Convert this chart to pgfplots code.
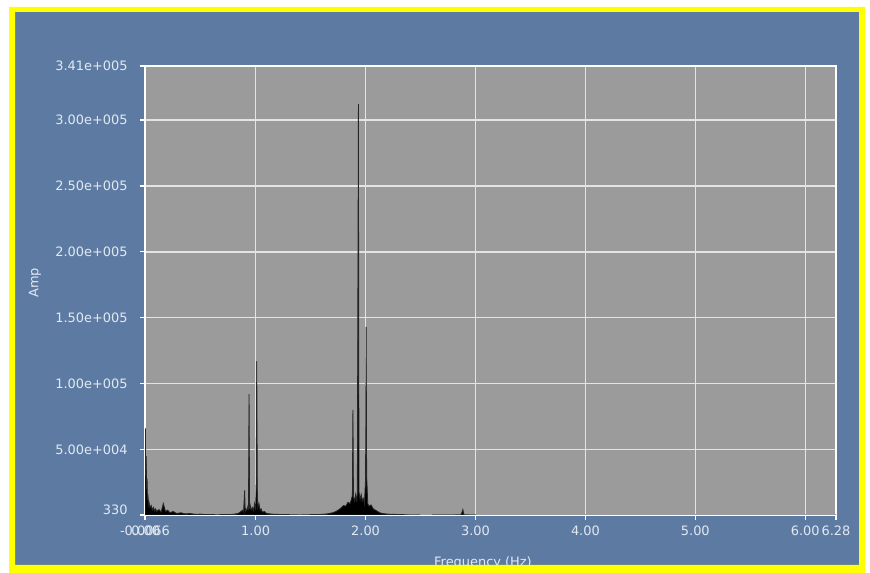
\documentclass[border=0pt]{standalone}
\usepackage{fontspec}
\setmainfont{DejaVu Sans}
\usepackage{pgfplots}
\pgfplotsset{compat=1.18}
\definecolor{bgblue}{HTML}{5D7BA2}
\definecolor{plotgray}{HTML}{9B9B9B}
\definecolor{txt}{HTML}{E2E8F0}
\definecolor{gridc}{HTML}{E4E4E4}
\definecolor{frameyellow}{HTML}{FFFF00}
\begin{document}
\begin{tikzpicture}[x=0.75pt,y=0.75pt]
\useasboundingbox (0,0) rectangle (870,573);
\fill[white] (0,0) rectangle (870,573);
\fill[bgblue] (9,0) rectangle (865,566);
\begin{axis}[
  at={(108.75pt,43.5pt)}, anchor=south west,
  scale only axis, width=518.25pt, height=336.75pt,
  xmin=-0.0066, xmax=6.28, ymin=330, ymax=341000,
  axis background/.style={fill=plotgray},
  axis line style={white, line width=1.3pt},
  grid=major, major grid style={gridc, line width=1.1pt},
  xtick={-0.0066,0,1,2,3,4,5,6,6.28},
  xticklabels={-0.0066,0.00,1.00,2.00,3.00,4.00,5.00,6.00,6.28},
  ytick={50000,100000,150000,200000,250000,300000,341000},
  yticklabels={5.00e+004,1.00e+005,1.50e+005,2.00e+005,2.50e+005,3.00e+005,3.41e+005},
  extra y ticks={330}, extra y tick labels={330},
  extra y tick style={grid=none, yticklabel style={yshift=4pt}},
  scaled y ticks=false, scaled x ticks=false,
  tick align=outside, tick pos=left,
  major tick length=3.5pt,
  tick style={white, line width=1pt},
  ticklabel style={font=\fontsize{9.7}{10}\selectfont, text=txt},
  yticklabel style={xshift=-6pt},
  xticklabel style={yshift=-1pt},
  clip=true,
]
\addplot[black!85, line width=0.6pt, fill=black] coordinates {
(-0.0066,20000) (-0.003,66000) (0.000,30000) (0.004,45000) (0.008,20000)
(0.012,28000) (0.016,12000) (0.02,16000) (0.025,8000) (0.03,10000)
(0.04,6000) (0.05,7500) (0.06,4000) (0.07,6000) (0.08,3500) (0.09,5000)
(0.10,3000) (0.12,4500) (0.14,2500) (0.16,9000) (0.18,3000) (0.20,4000)
(0.22,2000) (0.25,3000) (0.28,1500) (0.32,2000) (0.36,1200) (0.40,1500)
(0.45,900) (0.50,1000) (0.55,600) (0.60,700) (0.65,500) (0.70,700)
(0.75,600) (0.80,900) (0.84,1500) (0.86,2500) (0.88,4000) (0.89,2500)
(0.90,19000) (0.905,3000) (0.91,5000) (0.92,3500) (0.93,7000) (0.935,4000)
(0.94,92000) (0.945,5000) (0.95,8000) (0.96,4000) (0.97,6000) (0.98,3500)
(0.99,9000) (1.00,4000) (1.005,25000) (1.01,117000) (1.015,20000) (1.02,6000)
(1.03,9000) (1.04,4000) (1.05,5000) (1.06,2500) (1.08,3000) (1.10,1500)
(1.15,1000) (1.20,800) (1.30,600) (1.40,500) (1.50,600) (1.60,800)
(1.65,1200) (1.70,2000) (1.73,3000) (1.76,4500) (1.78,6000) (1.80,7500)
(1.82,7000) (1.84,10000) (1.86,9000) (1.87,12000) (1.88,15000) (1.885,80000)
(1.89,14000) (1.90,11000) (1.91,16000) (1.92,10000) (1.925,17000) (1.935,312000)
(1.94,18000) (1.95,12000) (1.96,16000) (1.97,11000) (1.98,13000) (1.99,9000)
(2.00,28000) (2.005,143000) (2.01,30000) (2.02,9000) (2.03,7000) (2.05,8000)
(2.07,5000) (2.10,3500) (2.13,2000) (2.16,1400) (2.20,1000) (2.30,700)
(2.40,500) (2.50,400) (2.60,400) (2.70,450) (2.80,500) (2.87,600)
(2.885,4500) (2.895,600) (2.95,500) (3.00,400) (3.2,350) (3.5,330)
(4.0,330) (5.0,330) (6.0,330) (6.28,330)
} \closedcycle;
\end{axis}
\node[rotate=90, text=txt, font=\fontsize{9.7}{10}\selectfont] at (35,290) {Amp};
\node[text=txt, font=\fontsize{9.7}{10}\selectfont] at (483,10) {Frequency (Hz)};
\fill[frameyellow, even odd rule] (9,0) rectangle (865,566) (15,8) rectangle (859,561);
\end{tikzpicture}
\end{document}
